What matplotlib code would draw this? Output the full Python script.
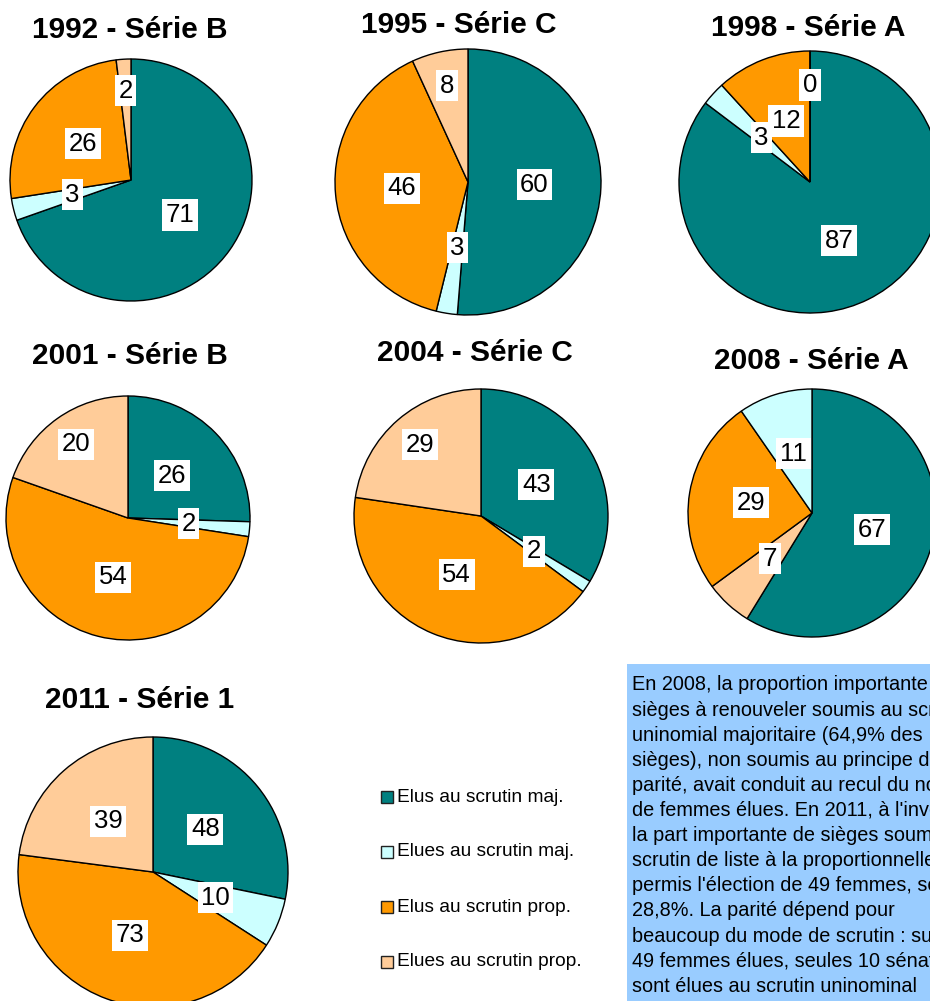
import matplotlib.pyplot as plt
import numpy as np
from matplotlib.patches import Rectangle

plt.rcParams["font.family"] = ["Liberation Sans", "DejaVu Sans"]

W, H = 930, 1001

# series: Elus maj., Elues maj., Elus prop., Elues prop.
series = ["Elus au scrutin maj.", "Elues au scrutin maj.",
          "Elus au scrutin prop.", "Elues au scrutin prop."]
colors = ["#008080", "#CCFFFF", "#FF9900", "#FFCC99"]

titles = ["1992 - Série B", "1995 - Série C", "1998 - Série A",
          "2001 - Série B", "2004 - Série C", "2008 - Série A",
          "2011 - Série 1"]
elus_maj = [71, 60, 87, 26, 43, 67, 48]
elues_maj = [3, 3, 3, 2, 2, 11, 10]
elus_prop = [26, 46, 12, 54, 54, 29, 73]
elues_prop = [2, 8, 0, 20, 29, 7, 39]

# slice order, clockwise from 12 o'clock (2008 is drawn differently)
orders = [[0, 1, 2, 3]] * 5 + [[0, 3, 2, 1], [0, 1, 2, 3]]

# layout in pixels (x, y from top-left)
centers = [(131, 180), (468, 182), (810, 182),
           (128, 518), (481, 516), (812, 513), (153, 872)]
radii = [121, 133, 131, 122, 127, 124, 135]
title_pos = [(130, 30), (459, 25), (808, 28),
             (130, 356), (475, 353), (811, 361), (140, 700)]
label_r = [[0.5, 0.5, 0.5, 0.74]] * 5 + [[0.5, 0.5, 0.5, 0.5]] * 2

note = [
    "En 2008, la proportion importante de",
    "sièges à renouveler soumis au scrutin",
    "uninomial majoritaire (64,9% des",
    "sièges), non soumis au principe de",
    "parité, avait conduit au recul du nombre",
    "de femmes élues. En 2011, à l'inverse,",
    "la part importante de sièges soumis au",
    "scrutin de liste à la proportionnelle a",
    "permis l'élection de 49 femmes, soit",
    "28,8%. La parité dépend pour",
    "beaucoup du mode de scrutin : sur les",
    "49 femmes élues, seules 10 sénatrices",
    "sont élues au scrutin uninominal",
]


def fy(y):
    return H - y


fig = plt.figure(figsize=(W / 100, H / 100), dpi=100)
ax = fig.add_axes([0, 0, 1, 1])

for i, title in enumerate(titles):
    vals = [elus_maj[i], elues_maj[i], elus_prop[i], elues_prop[i]]
    order = orders[i]
    cx, cy = centers[i]
    r = radii[i]
    wedges, _ = ax.pie(
        [vals[k] for k in order],
        colors=[colors[k] for k in order],
        startangle=90,
        counterclock=False,
        center=(cx, fy(cy)),
        radius=r,
        wedgeprops=dict(edgecolor="black", linewidth=1.0),
    )
    for j, w in enumerate(wedges):
        ang = np.deg2rad((w.theta1 + w.theta2) / 2)
        rr = r * label_r[i][order[j]]
        ax.text(cx + rr * np.cos(ang), fy(cy) + rr * np.sin(ang),
                str(vals[order[j]]), ha="center", va="center", fontsize=18.5,
                bbox=dict(boxstyle="square,pad=0.14", fc="white", ec="none"))
    tx, ty = title_pos[i]
    ax.text(tx, fy(ty), title, ha="center", va="center",
            fontsize=21.5, fontweight="bold")

# legend
for k, lab in enumerate(series):
    yc = 797 + k * 55
    ax.add_patch(Rectangle((381, fy(yc) - 6), 12, 12, fc=colors[k],
                           ec="#222222", lw=1.0))
    ax.text(397, fy(yc), lab, ha="left", va="center", fontsize=13.8)

# note box
ax.add_patch(Rectangle((627, fy(H + 5)), 320, H + 5 - 664, fc="#99CCFF",
                       ec="none"))
for k, line in enumerate(note):
    ax.text(632, fy(685 + k * 25.1), line, ha="left", va="center",
            fontsize=14.3)

ax.set_xlim(0, W)
ax.set_ylim(0, H)
ax.set_aspect("equal")
ax.axis("off")

fig.savefig("out.png", dpi=100)
